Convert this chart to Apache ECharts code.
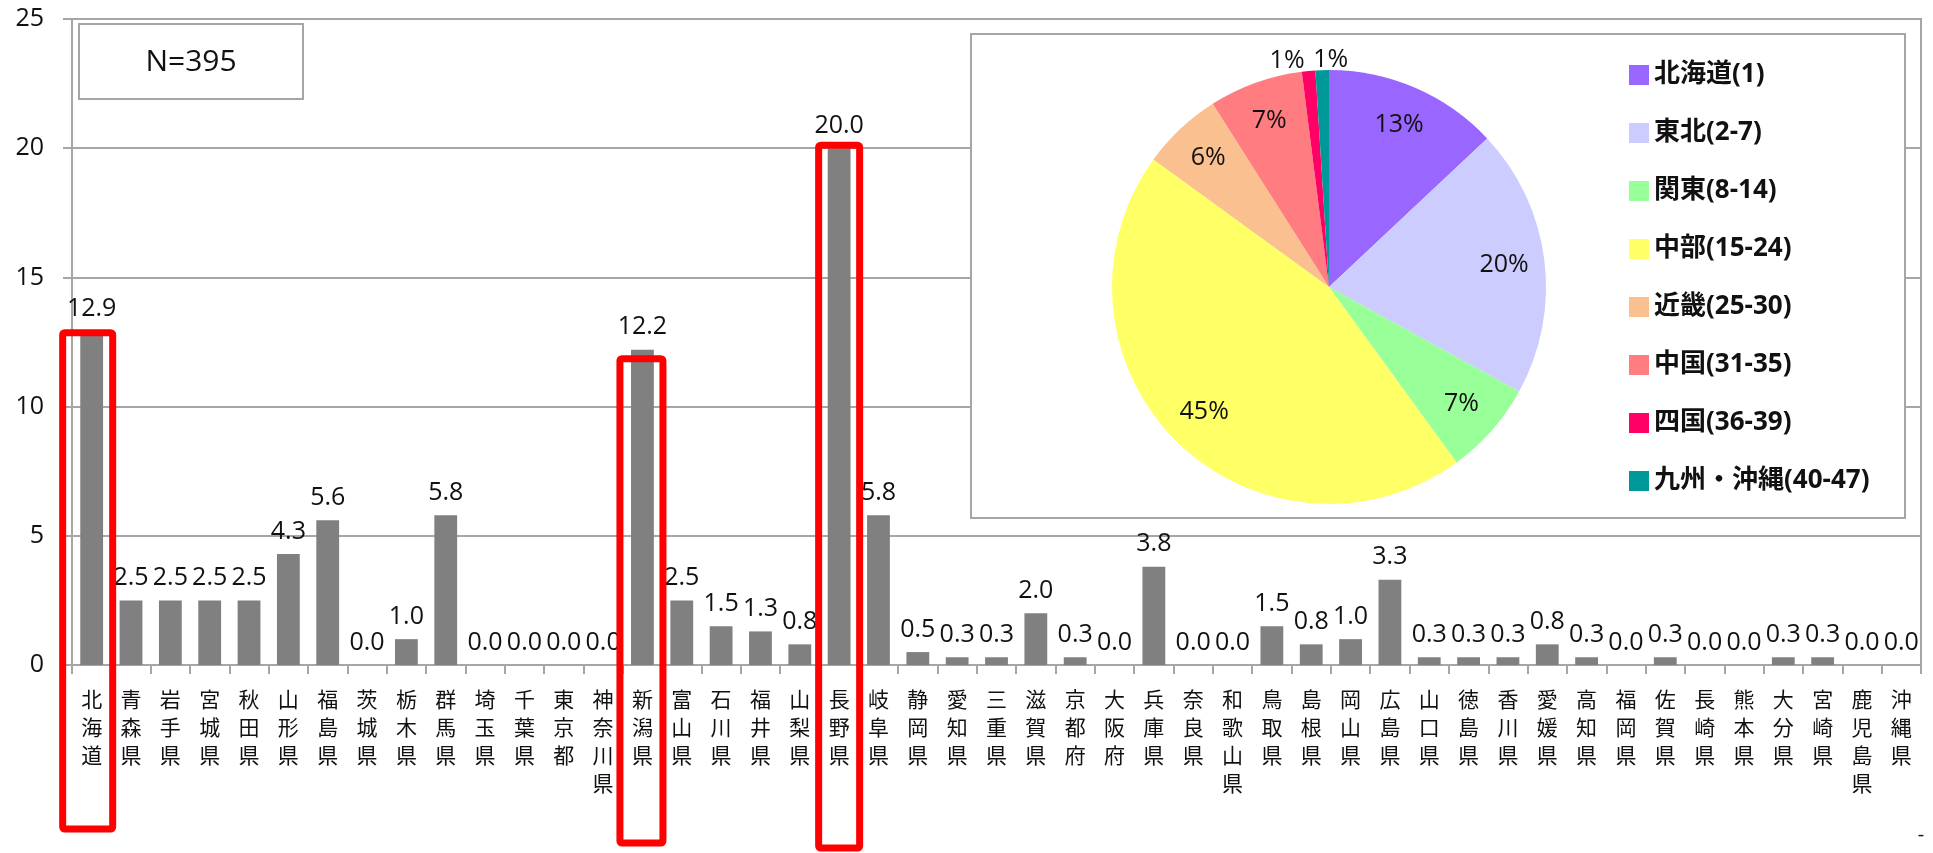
<!DOCTYPE html>
<html><head><meta charset="utf-8">
<script src="https://cdn.jsdelivr.net/npm/echarts@6/dist/echarts.min.js"></script>
<style>html,body{margin:0;padding:0;background:#fff}#c{width:1933px;height:853px}</style>
</head><body><div id="c"></div>
<script>
const prefectures = ['北海道','青森県','岩手県','宮城県','秋田県','山形県','福島県','茨城県','栃木県','群馬県','埼玉県','千葉県','東京都','神奈川県','新潟県','富山県','石川県','福井県','山梨県','長野県','岐阜県','静岡県','愛知県','三重県','滋賀県','京都府','大阪府','兵庫県','奈良県','和歌山県','鳥取県','島根県','岡山県','広島県','山口県','徳島県','香川県','愛媛県','高知県','福岡県','佐賀県','長崎県','熊本県','大分県','宮崎県','鹿児島県','沖縄県'];
const shares = [12.9,2.5,2.5,2.5,2.5,4.3,5.6,0.0,1.0,5.8,0.0,0.0,0.0,0.0,12.2,2.5,1.5,1.3,0.8,20.0,5.8,0.5,0.3,0.3,2.0,0.3,0.0,3.8,0.0,0.0,1.5,0.8,1.0,3.3,0.3,0.3,0.3,0.8,0.3,0.0,0.3,0.0,0.0,0.3,0.3,0.0,0.0];
const yTicks = [0,5,10,15,20,25];
const regions = ['北海道(1)','東北(2-7)','関東(8-14)','中部(15-24)','近畿(25-30)','中国(31-35)','四国(36-39)','九州・沖縄(40-47)'];
const regionPct = [13,20,7,45,6,7,1,1];
const regionColors = ['#9966ff','#ccccff','#99ff99','#ffff66','#fac090','#ff7c80','#ff0066','#009999'];
const highlighted = ['北海道','新潟県','長野県'];
const sampleNote = 'N=395';

// annotation geometry (layout, not data)
const hlLayout = {
  '北海道': {w:50, dx:-4, topOff:1, bottom:829},
  '新潟県': {w:43, dx:-1, topOff:9, bottom:843},
  '長野県': {w:41, dx:0, topOff:-3, bottom:848}
};

const NUMFONT = '"Open Sans","Noto Sans CJK JP",sans-serif';
const JPFONT = '"Noto Sans CJK JP",sans-serif';
const GRAY = '#a6a6a6';

const chart = echarts.init(document.getElementById('c'));
const pieCenter = [1329, 287];
const pieR = 217;

chart.setOption({
  animation: false,
  backgroundColor: '#fff',
  grid: {left: 72, right: 12, top: 19, bottom: 188, show: true, borderColor: GRAY, borderWidth: 2, backgroundColor: 'transparent'},
  xAxis: {
    type: 'category', data: prefectures,
    axisLine: {lineStyle: {color: GRAY, width: 2}},
    axisTick: {show: true, length: 9, lineStyle: {color: GRAY, width: 2}},
    axisLabel: {interval: 0, margin: 20, fontSize: 21, lineHeight: 28, color: '#111', fontFamily: JPFONT,
      formatter: v => v.split('').join('\n')}
  },
  yAxis: {
    type: 'value', min: yTicks[0], max: yTicks[yTicks.length-1], interval: 5,
    axisLine: {show: true, lineStyle: {color: GRAY, width: 2}},
    axisTick: {show: true, length: 9, lineStyle: {color: GRAY, width: 2}},
    splitLine: {lineStyle: {color: GRAY, width: 2}},
    axisLabel: {margin: 28, fontSize: 25, color: '#111', fontFamily: NUMFONT}
  },
  legend: {
    orient: 'vertical', left: 1624, top: 55, itemWidth: 20, itemHeight: 20, itemGap: 28,
    icon: 'rect', data: regions,
    textStyle: {fontSize: 26, fontWeight: 'bold', color: '#111', fontFamily: NUMFONT, lineHeight: 30},
    selectedMode: false
  },
  series: [
    {
      type: 'bar', data: shares, barWidth: '58%', z: 2,
      itemStyle: {color: '#808080'},
      label: {show: true, position: 'top', distance: 10, fontSize: 25, color: '#111', fontFamily: NUMFONT,
        formatter: p => p.value.toFixed(1)}
    },
    {
      type: 'pie', name: 'pie', center: pieCenter, radius: pieR, startAngle: 90, z: 5,
      data: regions.map((n,i) => ({name: n, value: regionPct[i], itemStyle: {color: regionColors[i]}})),
      label: {show: false}, labelLine: {show: false}, silent: true,
      emphasis: {disabled: true}
    },
    {
      type: 'pie', name: 'pieLabels', center: pieCenter, radius: [130, pieR], startAngle: 90, z: 6,
      avoidLabelOverlap: false, silent: true, emphasis: {disabled: true},
      itemStyle: {color: 'rgba(0,0,0,0)', borderWidth: 0},
      labelLine: {show: false, length: 0, length2: 0},
      data: regions.map((n,i) => ({name: n, value: regionPct[i],
        label: (i >= 6) ? {position: 'outside', distanceToLabelLine: 0} : {position: 'inside'}})),
      label: {show: true, formatter: '{c}%', fontSize: 25, color: '#111', fontFamily: NUMFONT},
      labelLayout: function (p) {
        if (p.dataIndex === 7) return {dx: 13, dy: -5};
        if (p.dataIndex === 6) return {dx: -2, dy: -5};
        return {};
      }
    }
  ]
});

const els = [
  {type: 'rect', id: 'pieBox', z: 1, shape: {x: 971, y: 34, width: 934, height: 484},
    style: {fill: '#fff', stroke: GRAY, lineWidth: 2}},
  {type: 'rect', id: 'nBox', z: 1, shape: {x: 79, y: 24, width: 224, height: 75},
    style: {fill: '#fff', stroke: GRAY, lineWidth: 2}},
  {type: 'text', id: 'nText', z: 3, x: 191, y: 62,
    style: {text: sampleNote, fontSize: 30, fill: '#111', fontFamily: NUMFONT, align: 'center', verticalAlign: 'middle'}},
  {type: 'text', id: 'dash', z: 3, x: 1921, y: 835,
    style: {text: '-', fontSize: 20, fill: '#111', fontFamily: NUMFONT, align: 'center', verticalAlign: 'middle'}}
];
highlighted.forEach(name => {
  const idx = prefectures.indexOf(name);
  const L = hlLayout[name];
  const pt = chart.convertToPixel({xAxisIndex: 0, yAxisIndex: 0}, [idx, shares[idx]]);
  const top = pt[1] + L.topOff;
  els.push({type: 'rect', id: 'hl_' + name, z: 20,
    shape: {x: pt[0] - L.w/2 + L.dx, y: top, width: L.w, height: L.bottom - top, r: 2},
    style: {fill: 'none', stroke: '#ff0000', lineWidth: 7, lineJoin: 'round'}});
});
chart.setOption({graphic: {elements: els}});
</script></body></html>
